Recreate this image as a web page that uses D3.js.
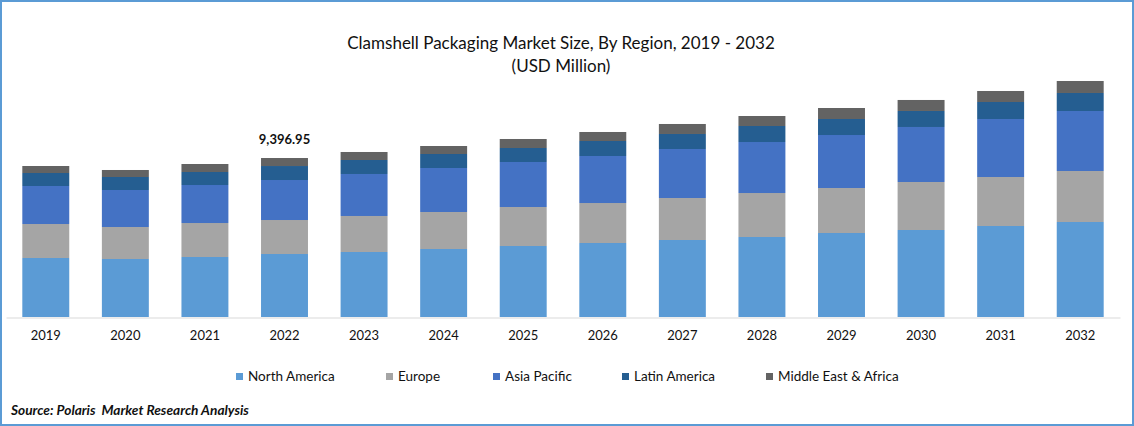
<!DOCTYPE html>
<html>
<head>
<meta charset="utf-8">
<script src="https://d3js.org/d3.v7.min.js"></script>
<style>
  html, body { margin: 0; padding: 0; background: #fff; }
  svg { display: block; font-family: Lato, "Open Sans", sans-serif; }
</style>
</head>
<body>
<div id="plot"></div>
<script>
// Values (USD million)
const years = ["2019","2020","2021","2022","2023","2024","2025","2026","2027","2028","2029","2030","2031","2032"];
const regions = ["North America","Europe","Asia Pacific","Latin America","Middle East & Africa"];
const northAmerica = [3487,3428,3546,3723,3842,4019,4196,4373,4551,4728,4964,5142,5378,5615];
const europe = [2009,1891,2009,2009,2128,2187,2305,2364,2482,2600,2660,2837,2896,3014];
const asiaPacific = [2246,2187,2246,2364,2482,2600,2660,2778,2896,3014,3132,3251,3428,3546];
const latinAmerica = [768,768,768,827,827,827,827,887,887,946,946,946,1005,1064];
const middleEastAfrica = [414,414,473,473,473,473,532,532,591,591,650,650,650,709];
const colors = ["#5b9bd5","#a5a5a5","#4472c4","#255e91","#636363"];
const labelYear = "2022";
const labelText = "9,396.95";

const width = 1134, height = 426;
const baseY = 317;

const svg = d3.select("#plot").append("svg")
    .attr("width", width)
    .attr("height", height);

// Frame
svg.append("rect")
    .attr("x", 1)
    .attr("y", 1)
    .attr("width", width - 2)
    .attr("height", height - 2)
    .attr("fill", "#fff")
    .attr("stroke", "#5b9bd5")
    .attr("stroke-width", 2);

// Build table for the stack
const table = years.map((y, i) => ({
    year: y,
    "North America": northAmerica[i],
    "Europe": europe[i],
    "Asia Pacific": asiaPacific[i],
    "Latin America": latinAmerica[i],
    "Middle East & Africa": middleEastAfrica[i]
}));
const series = d3.stack().keys(regions)(table);

const xScale = d3.scaleBand()
    .domain(years)
    .range([6, 1120])
    .paddingInner(0.41)
    .paddingOuter(0.205);

// 59.1 USD million per pixel
const yScale = d3.scaleLinear()
    .domain([0, 16000])
    .range([baseY, baseY - 16000 / 59.1]);

// Stacked bars
svg.append("g")
    .selectAll("g")
    .data(series)
    .enter()
    .append("g")
    .attr("fill", (d, i) => colors[i])
    .selectAll("rect")
    .data(d => d)
    .enter()
    .append("rect")
    .attr("x", d => xScale(d.data.year))
    .attr("y", d => yScale(d[1]))
    .attr("width", xScale.bandwidth())
    .attr("height", d => yScale(d[0]) - yScale(d[1]));

// x axis
const xAxis = svg.append("g")
    .attr("transform", "translate(0," + (baseY + 0.5) + ")")
    .call(d3.axisBottom(xScale).tickSize(0).tickPadding(13));
xAxis.select(".domain").attr("stroke", "#d9d9d9");
xAxis.selectAll("text")
    .style("font-family", "Lato, sans-serif")
    .style("font-size", "13px")
    .style("fill", "#111");

// Title
svg.append("text")
    .attr("x", 561)
    .attr("y", 49)
    .attr("text-anchor", "middle")
    .style("font-size", "17px")
    .style("fill", "#111")
    .text("Clamshell Packaging Market Size, By Region, 2019 - 2032");
svg.append("text")
    .attr("x", 561)
    .attr("y", 72)
    .attr("text-anchor", "middle")
    .style("font-size", "17px")
    .style("fill", "#111")
    .text("(USD Million)");

// Data label over 2022
const labelTop = yScale(series[series.length - 1][years.indexOf(labelYear)][1]);
svg.append("text")
    .attr("x", xScale(labelYear) + xScale.bandwidth() / 2)
    .attr("y", labelTop - 14)
    .attr("text-anchor", "middle")
    .style("font-size", "13px")
    .style("font-weight", "bold")
    .style("fill", "#111")
    .text(labelText);

// Legend
const legendX = [236, 386, 493, 622, 766];
const legend = svg.append("g")
    .selectAll("g")
    .data(regions)
    .enter()
    .append("g")
    .attr("transform", (d, i) => "translate(" + legendX[i] + ",373)");
legend.append("rect")
    .attr("width", 7)
    .attr("height", 7)
    .attr("y", 0)
    .attr("fill", (d, i) => colors[i]);
legend.append("text")
    .attr("x", 12)
    .attr("y", 8)
    .style("font-size", "13.5px")
    .style("fill", "#111")
    .text(d => d);

// Source (two spaces after Polaris, as in the original)
svg.append("text")
    .attr("x", 11)
    .attr("y", 415)
    .style("font-size", "13.7px")
    .style("font-weight", "bold")
    .style("font-style", "italic")
    .style("white-space", "pre")
    .style("fill", "#111")
    .text("Source: Polaris  Market Research Analysis");
</script>
</body>
</html>
